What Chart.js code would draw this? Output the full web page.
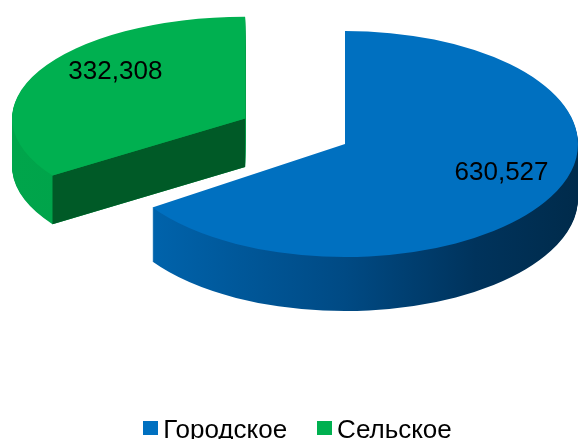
<!DOCTYPE html>
<html lang="ru">
<head>
<meta charset="utf-8">
<title>Городское и сельское население</title>
<script src="https://cdn.jsdelivr.net/npm/chart.js@4.4.1/dist/chart.umd.min.js"></script>
<style>
  html,body{margin:0;padding:0;background:#fff;}
  #wrap{position:relative;width:580px;height:439px;overflow:hidden;}
  #legend{position:absolute;left:0;right:0;top:416px;padding-left:15px;display:flex;justify-content:center;
    font:26px "Liberation Sans",Arial,sans-serif;color:#000;line-height:26px;}
  .lg-item{display:flex;align-items:center;margin:0 15px;white-space:nowrap;}
  .lg-box{width:15px;height:14px;margin-right:5px;margin-bottom:3px;}
</style>
</head>
<body>
<div id="wrap">
  <canvas id="pieChart" width="580" height="439"></canvas>
  <div id="legend"></div>
</div>
<script>
// население, тыс. чел.
const categories = ['Городское', 'Сельское'];
const values = [630.527, 332.308];

const topColors = ['#0070c0', '#00b050'];
const faceColors = ['#003d6b', '#005a27'];   // flat cut faces
const rimStops = [
  [[0, '#0068b4'], [0.1, '#0062aa'], [0.5, '#004a84'], [0.78, '#00335c'], [1, '#002b4b']],
  [[0, '#00a54b'], [1, '#009a45']]
];

// pseudo-3D settings
const TILT = 0.485;          // vertical squash of the disc
const DEPTH = 54;            // thickness, screen px
const PULL = [0, 113];       // explode distance per slice
const PERSPECTIVE = 0.0019;  // slices further back get flatter
const LABEL_POS = [{r: 0.76, dy: -11}, {r: 0.63, dy: -17}];

const fmt = v => v.toFixed(3).replace('.', ',');

// where a slice's tip ends up and how much it is flattened
function sliceFrame(arc, i) {
  const mid = (arc.startAngle + arc.endAngle) / 2;
  const px = Math.cos(mid) * PULL[i], py = Math.sin(mid) * PULL[i];
  return {mid, px, py, s: 1 + PERSPECTIVE * Math.min(py, 0)};
}

const tiltedPie = {
  id: 'tiltedPie',
  beforeDatasetDraw(chart) {
    const ctx = chart.ctx;
    const arcs = chart.getDatasetMeta(0).data;
    const cx = arcs[0].x, cy = arcs[0].y;
    const dy = DEPTH / TILT;

    // back slices first
    for (let i = arcs.length - 1; i >= 0; i--) {
      const arc = arcs[i];
      const {px, py, s} = sliceFrame(arc, i);
      const r = arc.outerRadius;

      ctx.save();
      ctx.translate(cx + px, cy + py * TILT);
      ctx.scale(1, TILT * s);
      ctx.translate(-cx, -cy);

      // rim: stack copies of the slice downwards
      const grad = ctx.createLinearGradient(cx - r, 0, cx + r, 0);
      rimStops[i].forEach(st => grad.addColorStop(st[0], st[1]));
      const side = Object.create(arc);
      side.options = Object.assign({}, arc.options, {backgroundColor: grad, borderWidth: 0});
      for (let d = dy; d > 0; d -= 1 / TILT) {
        ctx.save();
        ctx.translate(0, d);
        side.draw(ctx);
        ctx.restore();
      }

      // radial faces that turn towards the viewer
      [[arc.startAngle, -1], [arc.endAngle, 1]].forEach(([a, dir]) => {
        if (dir * Math.cos(a) <= 0.01) return;
        const ex = cx + Math.cos(a) * r, ey = cy + Math.sin(a) * r;
        ctx.beginPath();
        ctx.moveTo(cx, cy);
        ctx.lineTo(ex, ey);
        ctx.lineTo(ex, ey + dy);
        ctx.lineTo(cx, cy + dy);
        ctx.closePath();
        ctx.fillStyle = faceColors[i];
        ctx.fill();
      });

      // top
      arc.draw(ctx);
      ctx.restore();
    }
    return false;
  },
  afterDatasetsDraw(chart) {
    const ctx = chart.ctx;
    const arcs = chart.getDatasetMeta(0).data;
    ctx.save();
    ctx.font = '26px "Liberation Sans", Arial, sans-serif';
    ctx.fillStyle = '#000';
    ctx.textAlign = 'center';
    ctx.textBaseline = 'middle';
    arcs.forEach((arc, i) => {
      const {mid, px, py, s} = sliceFrame(arc, i);
      const d = arc.outerRadius * LABEL_POS[i].r;
      const x = arc.x + px + Math.cos(mid) * d;
      const y = arc.y + py * TILT + Math.sin(mid) * d * TILT * s + LABEL_POS[i].dy;
      ctx.fillText(fmt(values[i]), x, y);
    });
    ctx.restore();
  }
};

new Chart(document.getElementById('pieChart'), {
  type: 'pie',
  data: {
    labels: categories,
    datasets: [{
      data: values,
      backgroundColor: topColors,
      borderWidth: 0
    }]
  },
  options: {
    responsive: false,
    animation: false,
    events: [],
    radius: 233,
    layout: {padding: {left: 110, right: 0, top: 0, bottom: 151}},
    plugins: {legend: {display: false}, tooltip: {enabled: false}}
  },
  plugins: [tiltedPie]
});

// legend
const legend = document.getElementById('legend');
categories.forEach((name, i) => {
  const item = document.createElement('div');
  item.className = 'lg-item';
  const box = document.createElement('span');
  box.className = 'lg-box';
  box.style.background = topColors[i];
  item.appendChild(box);
  item.appendChild(document.createTextNode(name));
  legend.appendChild(item);
});
</script>
</body>
</html>
